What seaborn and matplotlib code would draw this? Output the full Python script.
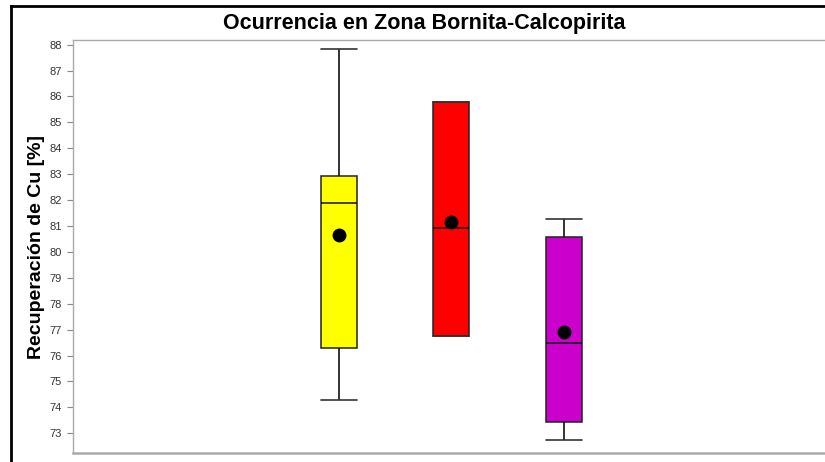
import numpy as np
import pandas as pd
import matplotlib
matplotlib.use("Agg")
import matplotlib.pyplot as plt
import seaborn as sns
from matplotlib.lines import Line2D

# ---- data ----
groups = ["Grupo 1", "Grupo 2", "Grupo 3"]
colors = ["#FFFF00", "#FF0000", "#CC00CC"]
whisker_low = [74.30, 76.77, 72.74]
q1 = [76.31, 76.77, 73.45]
medians = [81.89, 80.94, 76.48]
q3 = [82.94, 85.80, 80.58]
whisker_high = [87.82, 85.80, 81.27]
means = [80.65, 81.17, 76.92]
yticks = list(range(73, 89))

title = "Ocurrencia en Zona Bornita-Calcopirita"
ylabel = "Recuperación de Cu [%]"

# long-form table: five-number summary per group (quartiles reproduce exactly)
rows = []
for g, a, b, c, d, e in zip(groups, whisker_low, q1, medians, q3, whisker_high):
    for v in (a, b, c, d, e):
        rows.append({"grupo": g, "valor": v})
df = pd.DataFrame(rows)
dm = pd.DataFrame({"grupo": groups, "media": means})

sns.set_theme(style="white")
plt.rcParams["font.family"] = ["Liberation Sans", "DejaVu Sans"]

fig = plt.figure(figsize=(8.25, 4.62), dpi=100)
ax = fig.add_axes([73 / 825, 1 - 453 / 462, 752 / 825, (453 - 40) / 462])

sns.boxplot(data=df, x="grupo", y="valor", hue="grupo", palette=colors,
            order=groups, hue_order=groups, legend=False, saturation=1,
            whis=np.inf, width=0.32, linewidth=1.1, linecolor="#222222",
            capwidths=0.32,
            medianprops=dict(color="#111111", linewidth=1.1),
            whiskerprops=dict(color="#111111", linewidth=1.2),
            capprops=dict(color="#333333", linewidth=1.2),
            ax=ax)

sns.stripplot(data=dm, x="grupo", y="media", order=groups, jitter=False,
              color="black", size=10, linewidth=0, ax=ax, zorder=5)

ax.set_xlim(-2.364, 4.32)
ax.set_ylim(72.24, 88.18)
ax.set_yticks(yticks)
ax.set_yticklabels([str(t) for t in yticks])
ax.set_xticks([])
ax.set_xlabel("")
ax.set_ylabel(ylabel, fontsize=14, fontweight="bold", color="black")
ax.yaxis.set_label_coords(-0.037, 0.5)

ax.tick_params(axis="y", which="major", left=True, length=4, width=0.8,
               color="#888888", labelsize=8, labelcolor="#333333", pad=4)

for side in ["left", "top", "bottom"]:
    ax.spines[side].set_visible(True)
    ax.spines[side].set_color("#aaaaaa")
ax.spines["left"].set_linewidth(1.0)
ax.spines["top"].set_linewidth(1.0)
ax.spines["bottom"].set_linewidth(1.8)
ax.spines["right"].set_visible(False)

# title centred in the framed area
fig.text(424 / 825, 1 - 24 / 462, title, ha="center", va="center",
         fontsize=15.5, fontweight="bold", color="black")

# black frame lines (left and top)
fig.add_artist(Line2D([11 / 825, 11 / 825], [0, 1 - 6 / 462],
                      transform=fig.transFigure, color="black", linewidth=2.0,
                      solid_capstyle="projecting"))
fig.add_artist(Line2D([11 / 825, 1], [1 - 6 / 462, 1 - 6 / 462],
                      transform=fig.transFigure, color="black", linewidth=2.0,
                      solid_capstyle="projecting"))

fig.savefig("out.png", dpi=100)
